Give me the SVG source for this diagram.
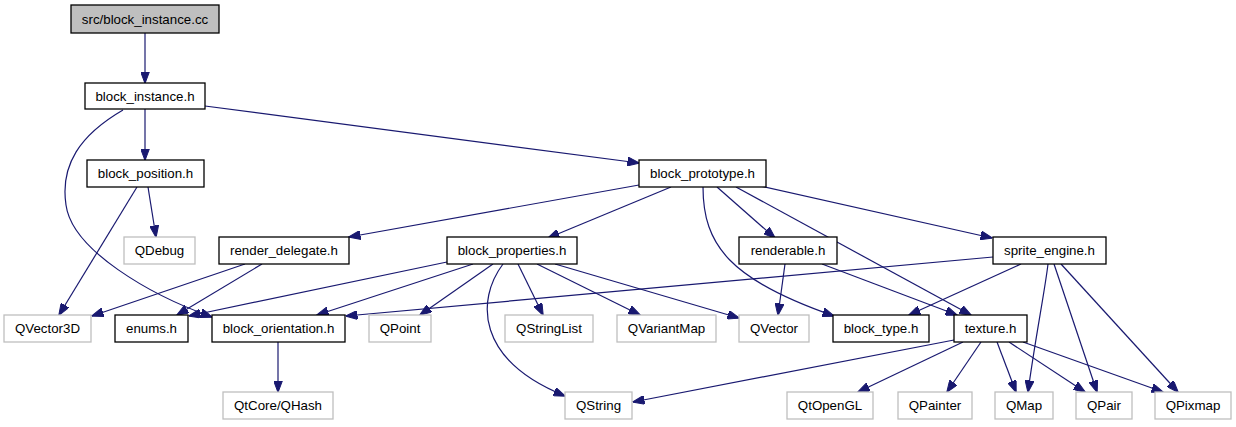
<svg xmlns="http://www.w3.org/2000/svg" width="1236" height="427" viewBox="0 0 1236 427">
<defs>
<marker id="arr" viewBox="0 0 12 9" markerWidth="12" markerHeight="9" refX="11.5" refY="4.5" orient="auto" markerUnits="userSpaceOnUse">
<path d="M0,0 L12,4.5 L0,9 z" fill="#191970" stroke="#191970" stroke-width="1"/>
</marker>
<style>
.e{fill:none;stroke:#191970;stroke-width:1.2;marker-end:url(#arr)}
.n rect{fill:#fff;stroke:#000;stroke-width:1.3}
.g rect{fill:#fff;stroke:#bfbfbf;stroke-width:1.3}
.root rect{fill:#bfbfbf;stroke:#000;stroke-width:1.3}
text{font-family:"Liberation Sans",Arial,sans-serif;font-size:13.3px;fill:#000;text-anchor:middle}
</style>
</defs>
<rect width="1236" height="427" fill="#fff"/>
<g id="edges">
<path class="e" d="M145,33 L145,83"/>
<path class="e" d="M145,109 L145,160"/>
<path class="e" d="M205,106 L639,163"/>
<path class="e" d="M123,110 C80,135 60,165 66,205 C72,250 150,295 212,317"/>
<path class="e" d="M148,187 L156,237"/>
<path class="e" d="M137,187 L59,315"/>
<path class="e" d="M245,264 L92,316"/>
<path class="e" d="M262,264 L177,315"/>
<path class="e" d="M639,185 L349,237"/>
<path class="e" d="M671,187 L548,238"/>
<path class="e" d="M703,187 C703,245 730,280 834,316"/>
<path class="e" d="M717,187 L775,238"/>
<path class="e" d="M736,187 L971,315"/>
<path class="e" d="M760,186 L992,238"/>
<path class="e" d="M785,264 L778,315"/>
<path class="e" d="M822,264 L957,315"/>
<path class="e" d="M993,257 L346,316"/>
<path class="e" d="M1021,264 L909,315"/>
<path class="e" d="M1048,264 C1045,290 1035,340 1028,392"/>
<path class="e" d="M1054,264 L1097,392"/>
<path class="e" d="M1061,264 L1178,392"/>
<path class="e" d="M954,340 L633,402"/>
<path class="e" d="M963,342 L858,392"/>
<path class="e" d="M981,342 L947,392"/>
<path class="e" d="M997,342 L1016,392"/>
<path class="e" d="M1009,342 L1085,392"/>
<path class="e" d="M1023,342 L1163,392"/>
<path class="e" d="M447,262 L189,316"/>
<path class="e" d="M473,264 L317,315"/>
<path class="e" d="M493,264 L420,315"/>
<path class="e" d="M503,264 C476,300 476,360 565,396"/>
<path class="e" d="M518,264 L543,315"/>
<path class="e" d="M537,264 L640,315"/>
<path class="e" d="M555,264 L739,318"/>
<path class="e" d="M278,341 L278,392"/>
</g>
<g id="n_cc" class="root"><rect x="71" y="5" width="148" height="28"/><text x="145" y="23.7">src/block_instance.cc</text></g>
<g id="n_block_instance" class="n"><rect x="85" y="83" width="120" height="26"/><text x="145" y="100.7">block_instance.h</text></g>
<g id="n_block_position" class="n"><rect x="87" y="160" width="117" height="27"/><text x="145.5" y="178.2">block_position.h</text></g>
<g id="n_block_prototype" class="n"><rect x="639" y="160" width="127" height="27"/><text x="702.5" y="178.2">block_prototype.h</text></g>
<g id="n_qdebug" class="g"><rect x="124" y="237" width="71" height="27"/><text x="159.5" y="255.2">QDebug</text></g>
<g id="n_render_delegate" class="n"><rect x="219" y="237" width="130" height="27"/><text x="284" y="255.2">render_delegate.h</text></g>
<g id="n_block_properties" class="n"><rect x="447" y="237" width="130" height="27"/><text x="512" y="255.2">block_properties.h</text></g>
<g id="n_renderable" class="n"><rect x="739" y="237" width="98" height="27"/><text x="788" y="255.2">renderable.h</text></g>
<g id="n_sprite_engine" class="n"><rect x="993" y="237" width="113" height="27"/><text x="1049.5" y="255.2">sprite_engine.h</text></g>
<g id="n_qvector3d" class="g"><rect x="4" y="315" width="87" height="27"/><text x="47.5" y="333.2">QVector3D</text></g>
<g id="n_enums" class="n"><rect x="115" y="315" width="73" height="27"/><text x="151.5" y="333.2">enums.h</text></g>
<g id="n_block_orientation" class="n"><rect x="212" y="315" width="133" height="27"/><text x="278.5" y="333.2">block_orientation.h</text></g>
<g id="n_qpoint" class="g"><rect x="369" y="315" width="62" height="27"/><text x="400" y="333.2">QPoint</text></g>
<g id="n_qstringlist" class="g"><rect x="505" y="315" width="88" height="27"/><text x="549" y="333.2">QStringList</text></g>
<g id="n_qvariantmap" class="g"><rect x="617" y="315" width="99" height="27"/><text x="666.5" y="333.2">QVariantMap</text></g>
<g id="n_qvector" class="g"><rect x="739" y="315" width="70" height="27"/><text x="774" y="333.2">QVector</text></g>
<g id="n_block_type" class="n"><rect x="833" y="315" width="96" height="27"/><text x="881" y="333.2">block_type.h</text></g>
<g id="n_texture" class="n"><rect x="954" y="315" width="73" height="27"/><text x="990.5" y="333.2">texture.h</text></g>
<g id="n_qhash" class="g"><rect x="223" y="392" width="110" height="27"/><text x="278" y="410.2">QtCore/QHash</text></g>
<g id="n_qstring" class="g"><rect x="565" y="392" width="67" height="27"/><text x="598.5" y="410.2">QString</text></g>
<g id="n_qtopengl" class="g"><rect x="787" y="392" width="86" height="27"/><text x="830" y="410.2">QtOpenGL</text></g>
<g id="n_qpainter" class="g"><rect x="898" y="392" width="74" height="27"/><text x="935" y="410.2">QPainter</text></g>
<g id="n_qmap" class="g"><rect x="995" y="392" width="58" height="27"/><text x="1024" y="410.2">QMap</text></g>
<g id="n_qpair" class="g"><rect x="1076" y="392" width="56" height="27"/><text x="1104" y="410.2">QPair</text></g>
<g id="n_qpixmap" class="g"><rect x="1155" y="392" width="76" height="27"/><text x="1193" y="410.2">QPixmap</text></g>
</svg>
